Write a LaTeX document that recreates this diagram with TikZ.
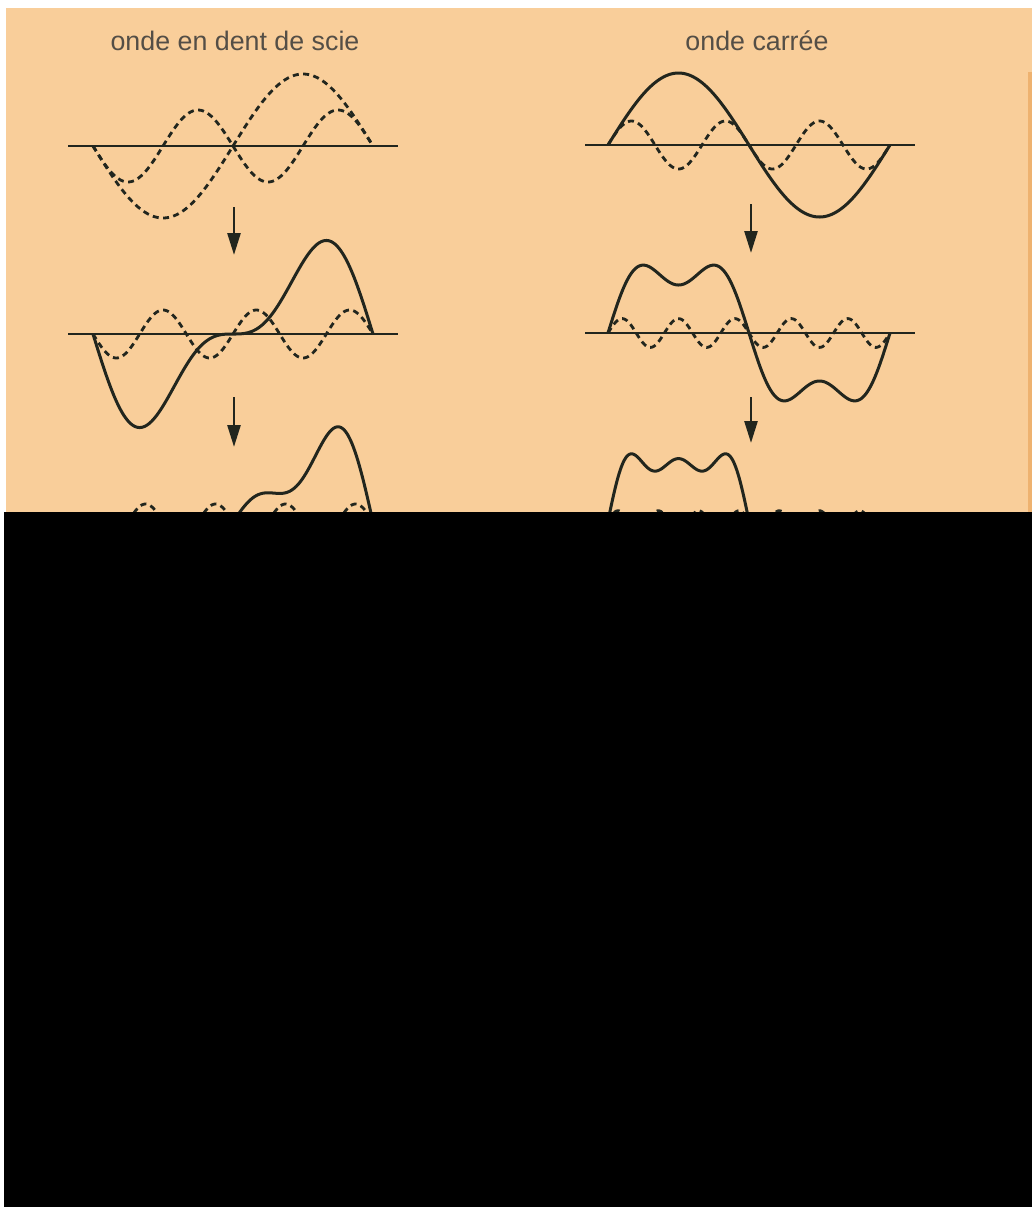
\documentclass[tikz,border=0pt]{standalone}
\usepackage{fontspec}
\setmainfont{Liberation Sans}
\usetikzlibrary{arrows.meta}
\definecolor{peach}{RGB}{249,206,154}
\definecolor{edge}{RGB}{238,178,112}
\definecolor{ink}{RGB}{34,38,30}
\definecolor{txt}{RGB}{84,78,70}
\tikzset{
  title/.style={font=\fontsize{13.4pt}{16pt}\selectfont, text=txt, anchor=base, inner sep=0pt},
  axisline/.style={draw=ink, line width=0.8pt},
  wave/.style={draw=ink, line width=1.5pt, line join=round},
  dwave/.style={draw=ink, line width=1.4pt, dash pattern=on 3pt off 2.2pt},
  down/.style={draw=ink, line width=1.3pt, -{Triangle[length=11pt,width=6.5pt]}},
}
\begin{document}
\begin{tikzpicture}[x=0.5pt,y=-0.5pt]
\useasboundingbox (0,0) rectangle (1032,1207);
\fill[white] (0,0) rectangle (1032,1207);
\fill[peach] (6,8) rectangle (1032,512);
\fill[edge] (1028,72) rectangle (1032,512);

% titles
\node[title] (tl) at (235,50) {onde en dent de scie};
\node[title] (tr) at (757,50) {onde carrée};

% ---------- left column: sawtooth ----------
% panel 1
\coordinate (la) at (68,146); \coordinate (lb) at (398,146);
\draw[axisline] (la) -- (lb);
\draw[dwave] plot[domain=0:2*pi,samples=150,smooth] ({93+280*\x/(2*pi)},{146+72*sin(deg(\x))});
\draw[dwave] plot[domain=0:2*pi,samples=150,smooth] ({93+280*\x/(2*pi)},{146+72*sin(deg(2*\x))/2});
% arrow 1
\coordinate (l1s) at (234,207); \coordinate (l1e) at (234,255);
\draw[down] (l1s) -- (l1e);
% panel 2
\coordinate (lc) at (68,334); \coordinate (ld) at (398,334);
\draw[axisline] (lc) -- (ld);
\draw[wave] plot[domain=0:2*pi,samples=200,smooth] ({93+280*\x/(2*pi)},{334+72*(sin(deg(\x))+sin(deg(2*\x))/2)});
\draw[dwave] plot[domain=0:2*pi,samples=200,smooth] ({93+280*\x/(2*pi)},{334+72*sin(deg(3*\x))/3});
% arrow 2
\coordinate (l2s) at (234,397); \coordinate (l2e) at (234,447);
\draw[down] (l2s) -- (l2e);
% panel 3
\coordinate (le) at (68,522); \coordinate (lf) at (398,522);
\draw[axisline] (le) -- (lf);
\draw[wave] plot[domain=0:2*pi,samples=250,smooth] ({93+280*\x/(2*pi)},{522+66*(sin(deg(\x))+sin(deg(2*\x))/2+sin(deg(3*\x))/3)});
\draw[dwave] plot[domain=0:2*pi,samples=250,smooth] ({93+280*\x/(2*pi)},{522+72*sin(deg(4*\x))/4});

% ---------- right column: square ----------
% panel 1
\coordinate (ra) at (585,145); \coordinate (rb) at (915,145);
\draw[axisline] (ra) -- (rb);
\draw[wave] plot[domain=0:2*pi,samples=150,smooth] ({608+282*\x/(2*pi)},{145-72*sin(deg(\x))});
\draw[dwave] plot[domain=0:2*pi,samples=200,smooth] ({608+282*\x/(2*pi)},{145-72*sin(deg(3*\x))/3});
% arrow 1
\coordinate (r1s) at (751,204); \coordinate (r1e) at (751,253);
\draw[down] (r1s) -- (r1e);
% panel 2
\coordinate (rc) at (585,333); \coordinate (rd) at (915,333);
\draw[axisline] (rc) -- (rd);
\draw[wave] plot[domain=0:2*pi,samples=250,smooth] ({608+282*\x/(2*pi)},{333-72*(sin(deg(\x))+sin(deg(3*\x))/3)});
\draw[dwave] plot[domain=0:2*pi,samples=250,smooth] ({608+282*\x/(2*pi)},{333-72*sin(deg(5*\x))/5});
% arrow 2
\coordinate (r2s) at (751,397); \coordinate (r2e) at (751,443);
\draw[down] (r2s) -- (r2e);
% panel 3
\coordinate (re) at (585,521); \coordinate (rf) at (915,521);
\draw[axisline] (re) -- (rf);
\draw[wave] plot[domain=0:2*pi,samples=300,smooth] ({608+282*\x/(2*pi)},{521-72*(sin(deg(\x))+sin(deg(3*\x))/3+sin(deg(5*\x))/5)});
\draw[dwave] plot[domain=0:2*pi,samples=300,smooth] ({608+282*\x/(2*pi)},{521-72*sin(deg(7*\x))/7});

% black lower region
\fill[black] (4,512) rectangle (1032,1207);
\end{tikzpicture}
\end{document}
